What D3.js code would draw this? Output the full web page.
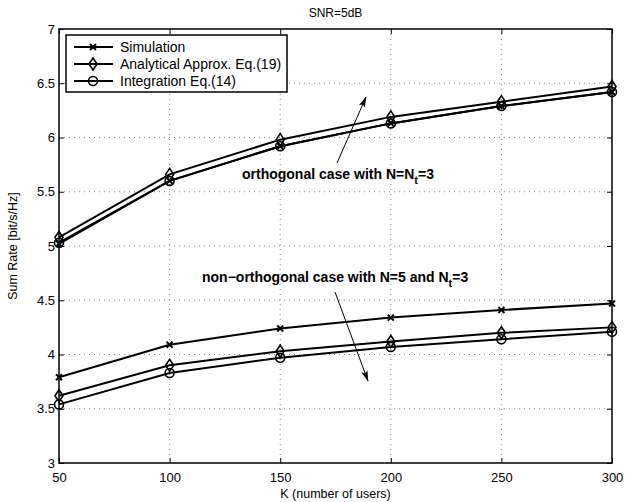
<!DOCTYPE html>
<head>
<meta charset="utf-8" />
<script src="https://d3js.org/d3.v7.min.js"></script>
<style>
    body { margin: 0; background: #fff; font-family: "Liberation Sans", Arial, sans-serif; }
</style>
</head>
<body>
<div id="chart"></div>
<script>
// data
var users = [50, 100, 150, 200, 250, 300];
var orthSim   = [5.02, 5.60, 5.92, 6.13, 6.29, 6.42];
var orthApprox = [5.08, 5.66, 5.98, 6.19, 6.33, 6.47];
var orthInt   = [5.03, 5.60, 5.92, 6.13, 6.29, 6.42];
var nonSim    = [3.79, 4.09, 4.24, 4.34, 4.41, 4.47];
var nonApprox = [3.62, 3.90, 4.03, 4.12, 4.20, 4.25];
var nonInt    = [3.54, 3.83, 3.97, 4.07, 4.14, 4.21];
var yTicks = [3, 3.5, 4, 4.5, 5, 5.5, 6, 6.5, 7];
var xTicks = [50, 100, 150, 200, 250, 300];

var width = 634, height = 502;
var margin = { top: 29, right: 22, bottom: 39, left: 59 };
var w = width - margin.left - margin.right,
    h = height - margin.top - margin.bottom;

var svg = d3.select("#chart").append("svg")
    .attr("width", width).attr("height", height);

var x = d3.scaleLinear().domain([50, 300]).range([0, w]);
var y = d3.scaleLinear().domain([3, 7]).range([h, 0]);

var g = svg.append("g").attr("transform", "translate(" + margin.left + "," + margin.top + ")");

// grid
g.append("g").selectAll("line").data(xTicks.slice(1, -1)).join("line")
    .attr("x1", d => x(d)).attr("x2", d => x(d)).attr("y1", 0).attr("y2", h)
    .attr("stroke", "#777").attr("stroke-width", 0.9).attr("stroke-dasharray", "1,4");
g.append("g").selectAll("line").data(yTicks.slice(1, -1)).join("line")
    .attr("y1", d => y(d)).attr("y2", d => y(d)).attr("x1", 0).attr("x2", w)
    .attr("stroke", "#777").attr("stroke-width", 0.9).attr("stroke-dasharray", "1,4");

// axes, ticks pointing inward
g.append("g").attr("transform", "translate(0," + h + ")")
    .call(d3.axisBottom(x).tickValues(xTicks).tickSizeInner(-5).tickSizeOuter(0).tickPadding(10));
g.append("g")
    .call(d3.axisLeft(y).tickValues(yTicks).tickFormat(d3.format("")).tickSizeInner(-5).tickSizeOuter(0).tickPadding(4));
g.append("g").attr("transform", "translate(" + w + ",0)")
    .call(d3.axisRight(y).tickValues(yTicks).tickSizeInner(-5).tickSizeOuter(0).tickFormat(""));
g.append("g")
    .call(d3.axisTop(x).tickValues(xTicks).tickSizeInner(-5).tickSizeOuter(0).tickFormat(""));
g.selectAll(".domain").remove();
g.selectAll(".tick line").attr("stroke", "#000");
g.selectAll(".tick text").attr("font-size", 13).attr("font-family", "Liberation Sans, Arial, sans-serif").attr("fill", "#000");
g.append("rect").attr("width", w).attr("height", h)
    .attr("fill", "none").attr("stroke", "#000").attr("stroke-width", 1.5);

// markers
function drawMarker(sel, type) {
    if (type === "x") {
        sel.append("path").attr("d", "M-3,-3L3,3M-3,3L3,-3")
            .attr("stroke", "#000").attr("stroke-width", 2).attr("fill", "none");
    } else if (type === "diamond") {
        sel.append("path").attr("d", "M0,-6L4,0L0,6L-4,0Z")
            .attr("stroke", "#000").attr("stroke-width", 1.6).attr("fill", "none");
    } else {
        sel.append("circle").attr("r", 4.5)
            .attr("stroke", "#000").attr("stroke-width", 1.6).attr("fill", "none");
    }
}

var series = [
    { vals: orthSim, m: "x" }, { vals: orthApprox, m: "diamond" }, { vals: orthInt, m: "circle" },
    { vals: nonSim, m: "x" }, { vals: nonApprox, m: "diamond" }, { vals: nonInt, m: "circle" }
];
var line = d3.line().x((d, i) => x(users[i])).y(d => y(d));

series.forEach(function(s) {
    g.append("path").datum(s.vals).attr("d", line)
        .attr("fill", "none").attr("stroke", "#000").attr("stroke-width", 2);
    s.vals.forEach(function(v, i) {
        var mg = g.append("g").attr("transform", "translate(" + x(users[i]) + "," + y(v) + ")");
        drawMarker(mg, s.m);
    });
});

// legend
var legendNames = ["Simulation", "Analytical Approx. Eq.(19)", "Integration Eq.(14)"];
var legendMarks = ["x", "diamond", "circle"];
var lg = svg.append("g").attr("transform", "translate(66,35)");
lg.append("rect").attr("width", 221).attr("height", 57)
    .attr("fill", "#fff").attr("stroke", "#000").attr("stroke-width", 1.5);
legendNames.forEach(function(n, i) {
    var yy = 12 + i * 17;
    lg.append("line").attr("x1", 8).attr("x2", 47).attr("y1", yy).attr("y2", yy)
        .attr("stroke", "#000").attr("stroke-width", 2);
    drawMarker(lg.append("g").attr("transform", "translate(27," + yy + ")"), legendMarks[i]);
    lg.append("text").attr("x", 54).attr("y", yy + 5).attr("font-size", 14).text(n);
});

// title and axis labels
svg.append("text").attr("x", margin.left + w / 2).attr("y", 17).attr("text-anchor", "middle")
    .attr("font-size", 12).text("SNR=5dB");
svg.append("text").attr("x", margin.left + w / 2).attr("y", 498).attr("text-anchor", "middle")
    .attr("font-size", 12.5).text("K (number of users)");
svg.append("text").attr("transform", "translate(17," + (margin.top + h / 2) + ") rotate(-90)")
    .attr("text-anchor", "middle").attr("font-size", 12.5).text("Sum Rate [bit/s/Hz]");

// annotations
svg.append("defs").append("marker").attr("id", "arr").attr("viewBox", "0 0 14 10")
    .attr("refX", 13).attr("refY", 5).attr("markerWidth", 13).attr("markerHeight", 8)
    .attr("markerUnits", "userSpaceOnUse")
    .attr("orient", "auto").append("path").attr("d", "M0,1L14,5L0,9L3,5Z").attr("fill", "#000");

var t1 = svg.append("text").attr("x", 242).attr("y", 179).attr("font-size", 14).attr("font-weight", "bold");
t1.append("tspan").text("orthogonal case with N=N");
t1.append("tspan").attr("dy", 5).attr("font-size", 11).text("t");
t1.append("tspan").attr("dy", -5).text("=3");
svg.append("line").attr("x1", 337).attr("y1", 163).attr("x2", 366).attr("y2", 97)
    .attr("stroke", "#000").attr("stroke-width", 1).attr("marker-end", "url(#arr)");

var t2 = svg.append("text").attr("x", 202).attr("y", 282).attr("font-size", 14).attr("font-weight", "bold");
t2.append("tspan").text("non\u2212orthogonal case with N=5 and N");
t2.append("tspan").attr("dy", 5).attr("font-size", 11).text("t");
t2.append("tspan").attr("dy", -5).text("=3");
svg.append("line").attr("x1", 335).attr("y1", 292).attr("x2", 368).attr("y2", 381)
    .attr("stroke", "#000").attr("stroke-width", 1).attr("marker-end", "url(#arr)");
</script>
</body>
